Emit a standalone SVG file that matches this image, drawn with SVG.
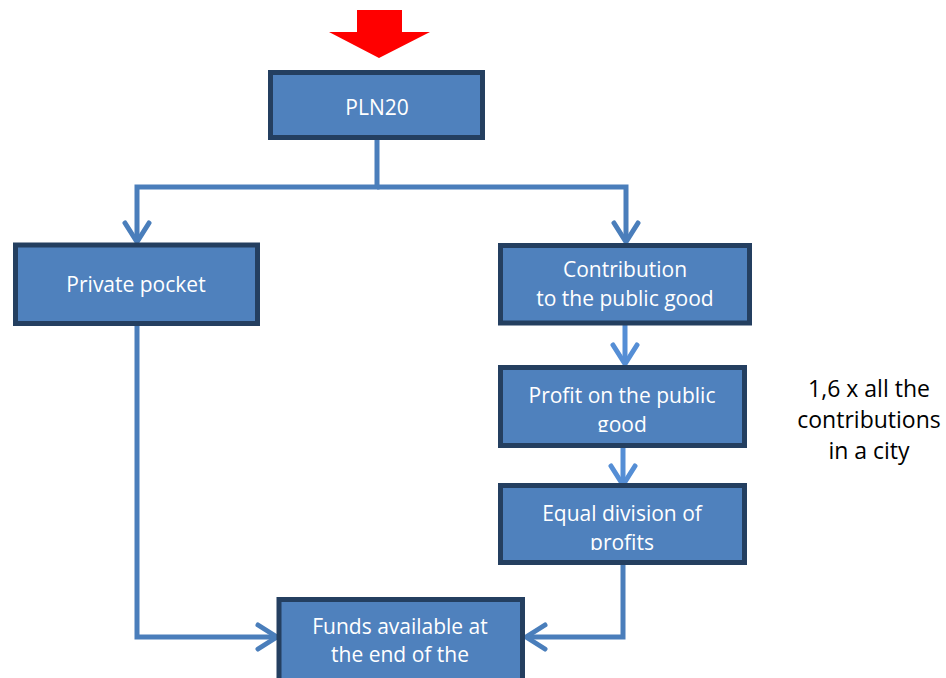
<svg xmlns="http://www.w3.org/2000/svg" width="946" height="678" viewBox="0 0 946 678">
<style>
.box{fill:#4F81BD;stroke:#243F60;stroke-width:5}
.lbl{fill:#FFFFFF;font-family:"Open Sans",Lato,"Liberation Sans",sans-serif;font-size:21px;text-anchor:middle}
.side{fill:#000000;font-family:"Open Sans",Lato,"Liberation Sans",sans-serif;font-size:23px;text-anchor:middle}
.con{fill:none;stroke:#4A7EBB;stroke-width:5;stroke-linejoin:miter}
.con2{fill:none;stroke:#558ED5;stroke-width:5}
</style>
<defs>
<marker id="ah" markerUnits="userSpaceOnUse" orient="auto" refX="0" refY="0" markerWidth="40" markerHeight="40" viewBox="-25 -20 30 40" overflow="visible">
<path d="M-19,-12 L0,0 L-19,12" fill="none" stroke="#4A7EBB" stroke-width="5" stroke-linecap="round" stroke-linejoin="round"/>
</marker>
<marker id="ah2" markerUnits="userSpaceOnUse" orient="auto" refX="0" refY="0" markerWidth="40" markerHeight="40" viewBox="-25 -20 30 40" overflow="visible">
<path d="M-19,-12 L0,0 L-19,12" fill="none" stroke="#558ED5" stroke-width="5" stroke-linecap="round" stroke-linejoin="round"/>
</marker>
<clipPath id="clipProfit"><rect x="500" y="367" width="244" height="65"/></clipPath>
<clipPath id="clipEqual"><rect x="500" y="485" width="244" height="65"/></clipPath>
</defs>
<rect width="946" height="678" fill="#FFFFFF"/>
<g id="red-arrow">
<polygon points="357,10 402,10 402,32 430,32 379,58 329,32 357,32" fill="#FF0000"/>
</g>
<g id="connectors">
<path class="con" d="M377,140 V187 H137 V242" marker-end="url(#ah)"/>
<path class="con" d="M377,187 H626 V242" marker-end="url(#ah)"/>
<path class="con2" d="M625,325 V364" marker-end="url(#ah2)"/>
<path class="con2" d="M623,448 V485" marker-end="url(#ah2)"/>
<path class="con" d="M137,325 V637 H277" marker-end="url(#ah)"/>
<path class="con" d="M623,565 V637 H526" marker-end="url(#ah)"/>
</g>
<g id="pln20">
<rect class="box" x="270.5" y="72.5" width="212" height="65"/>
<text class="lbl" x="377" y="115">PLN20</text>
</g>
<g id="private-pocket">
<rect class="box" x="15.5" y="245" width="242" height="78.5"/>
<text class="lbl" x="136" y="292">Private pocket</text>
</g>
<g id="contribution">
<rect class="box" x="500.5" y="245.5" width="249" height="77.5"/>
<text class="lbl" x="625" y="277" font-size="15">Contribution</text>
<text class="lbl" x="625" y="306">to the public good</text>
</g>
<g id="profit">
<rect class="box" x="500.5" y="367.5" width="244" height="78"/>
<text class="lbl" x="622" y="403" clip-path="url(#clipProfit)">Profit on the public</text>
<text class="lbl" x="622" y="432" clip-path="url(#clipProfit)">good</text>
</g>
<g id="equal-division">
<rect class="box" x="500.5" y="485.5" width="244" height="77"/>
<text class="lbl" x="622" y="521" clip-path="url(#clipEqual)">Equal division of</text>
<text class="lbl" x="622" y="550" clip-path="url(#clipEqual)">profits</text>
</g>
<g id="funds">
<rect class="box" x="279" y="599.5" width="243.5" height="90"/>
<text class="lbl" x="400" y="634">Funds available at</text>
<text class="lbl" x="400" y="662">the end of the</text>
</g>
<g id="note">
<text class="side" x="869" y="397">1,6 x all the</text>
<text class="side" x="869" y="428">contributions</text>
<text class="side" x="869" y="459">in a city</text>
</g>
</svg>
